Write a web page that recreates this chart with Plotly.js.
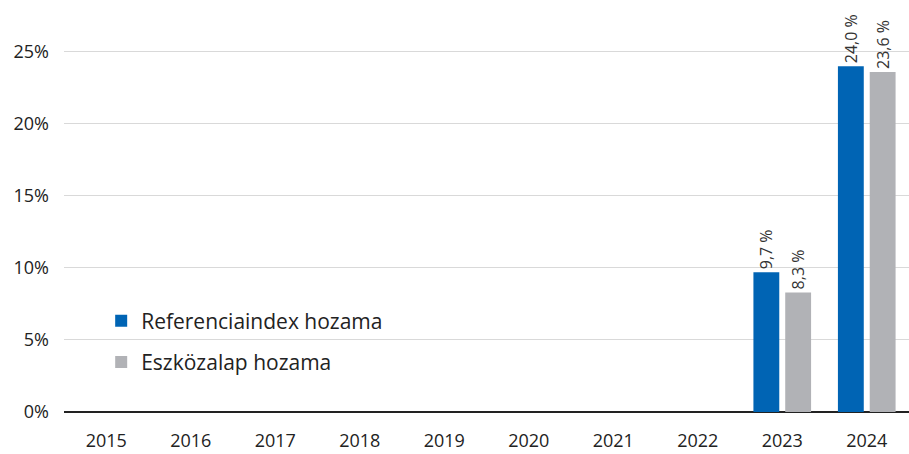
<!DOCTYPE html>
<html>
<head>
<meta charset="utf-8">
<script src="https://cdn.plot.ly/plotly-3.0.1.min.js"></script>
<style>html,body{margin:0;padding:0;background:#fff;}#chart{width:909px;height:454px;}</style>
</head>
<body>
<div id="chart"></div>
<script>
var years = ['2015','2016','2017','2018','2019','2020','2021','2022','2023','2024'];
var refIndex = [null,null,null,null,null,null,null,null,9.7,24.0];
var fundReturn = [null,null,null,null,null,null,null,null,8.3,23.6];
var seriesNames = ['Referenciaindex hozama','Eszközalap hozama'];

function fmt(arr){return arr.map(function(v){return v===null?'':v.toFixed(1).replace('.',',')+' %';});}

var font = '"Open Sans", sans-serif';
var traces = [
  {type:'bar', x:years, y:refIndex, name:seriesNames[0], legendgroup:'a', marker:{color:'#0064b4'},
   text:fmt(refIndex), textposition:'outside', textangle:-90, cliponaxis:false, constraintext:'none',
   textfont:{family:font,size:16,color:'#333'}, hoverinfo:'none'},
  {type:'bar', x:years, y:fundReturn, name:seriesNames[1], legendgroup:'b', marker:{color:'#b1b2b6'},
   text:fmt(fundReturn), textposition:'outside', textangle:-90, cliponaxis:false, constraintext:'none',
   textfont:{family:font,size:16,color:'#333'}, hoverinfo:'none'}
];
var layout = {
  width:909, height:454,
  margin:{l:64, r:0, t:10, b:42},
  paper_bgcolor:'#fff', plot_bgcolor:'#fff',
  font:{family:font, size:18, color:'#222'},
  barmode:'group', bargap:0.247, bargroupgap:0.1875,
  showlegend:true,
  legend:{x:0.044, y:0.175, xanchor:'left', yanchor:'middle', bgcolor:'rgba(0,0,0,0)',
          font:{family:font,size:21,color:'#222'}, traceorder:'grouped', tracegroupgap:11},
  xaxis:{type:'category', showgrid:false, ticks:'', tickfont:{family:font,size:18,color:'#222'},
         showline:false, zeroline:false, ticklabelstandoff:16},
  yaxis:{range:[0,27.9], dtick:5, ticksuffix:'%', showgrid:true, gridcolor:'#d9d9d9', gridwidth:1,
         zeroline:true, zerolinecolor:'#222', zerolinewidth:1.2,
         tickfont:{family:font,size:18,color:'#222'}, ticklabelstandoff:14}
};
Plotly.newPlot('chart', traces, layout, {staticPlot:true, displayModeBar:false});
</script>
</body>
</html>
